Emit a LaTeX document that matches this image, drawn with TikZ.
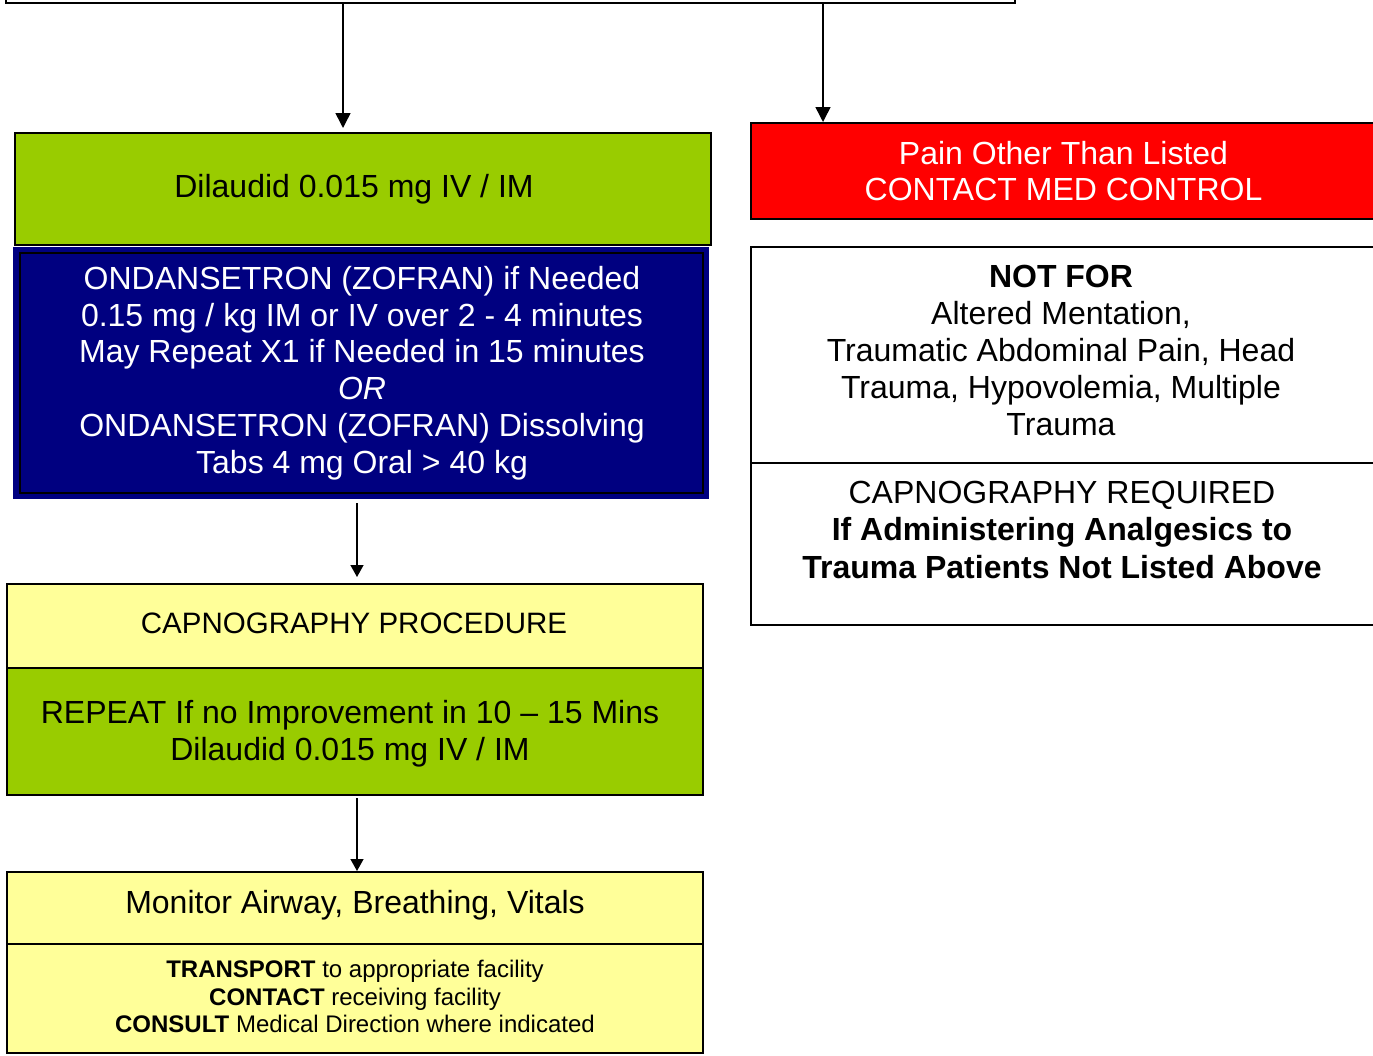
\documentclass[tikz,border=0pt]{standalone}
\usepackage{fontspec}
\setmainfont{Liberation Sans}
\usetikzlibrary{arrows.meta}
\definecolor{lgreen}{HTML}{99CC00}
\definecolor{navyb}{HTML}{000080}
\definecolor{lyellow}{HTML}{FFFF99}
\definecolor{redb}{HTML}{FF0000}
\begin{document}
\begin{tikzpicture}[x=1pt,y=-1pt,
  box/.style={draw=black, line width=2pt, rectangle, inner sep=0pt, align=center},
  txt/.style={inner sep=0pt, align=center},
  big/.style={font=\fontsize{32}{36.8}\selectfont},
  mid/.style={font=\fontsize{29.5}{34}\selectfont},
  small/.style={font=\fontsize{24}{27.5}\selectfont},
  arr/.style={line width=1.5pt, -{Triangle[length=15pt,width=15pt]}},
  arrs/.style={line width=1.3pt, -{Triangle[length=12pt,width=13pt]}}]
\clip (0,0) rectangle (1373,1055);
\fill[white] (0,0) rectangle (1373,1055);
% top box (partly visible)
\node[box, minimum width=1009pt, minimum height=100pt] (top) at (510.5,-47) {};
% left column
\node[box, fill=lgreen, minimum width=696pt, minimum height=112pt] (green1) at (363,189) {};
\node[txt, big] (green1text) at (354,189.5) {Dilaudid 0.015 mg IV / IM};
\node[fill=navyb, inner sep=0pt, minimum width=696pt, minimum height=252pt] (blue) at (361,373) {};
\node[draw=black, line width=2pt, inner sep=0pt, minimum width=683pt, minimum height=240pt] (blueinner) at (361.5,373) {};
\node[txt, big, text=white] (bluetext) at (362,373) {ONDANSETRON (ZOFRAN) if Needed\\0.15 mg / kg IM or IV over 2 - 4 minutes\\May Repeat X1 if Needed in 15 minutes\\\textit{OR}\\ONDANSETRON (ZOFRAN) Dissolving\\Tabs 4 mg Oral > 40 kg};
\node[box, fill=lyellow, minimum width=696pt, minimum height=84pt] (capno) at (355,626) {};
\node[txt, mid] (capnotext) at (354,623) {CAPNOGRAPHY PROCEDURE};
\node[box, fill=lgreen, minimum width=696pt, minimum height=127pt] (green2) at (355,731.5) {};
\node[txt, big] (green2text) at (350,734) {REPEAT If no Improvement in 10 -- 15 Mins\\Dilaudid 0.015 mg IV / IM};
\node[box, fill=lyellow, minimum width=696pt, minimum height=72pt] (monitor) at (355,908) {};
\node[txt, big] (monitortext) at (355,905) {Monitor Airway, Breathing, Vitals};
\node[box, fill=lyellow, minimum width=696pt, minimum height=109pt] (transport) at (355,998.5) {};
\node[txt, small] (transporttext) at (355,996.5) {\textbf{TRANSPORT} to appropriate facility\\\textbf{CONTACT} receiving facility\\\textbf{CONSULT} Medical Direction where indicated};
% right column
\node[box, fill=redb, text=white, minimum width=625pt, minimum height=96pt, big] (red) at (1063.5,171) {Pain Other Than Listed\\CONTACT MED CONTROL};
\node[box, fill=white, minimum width=625pt, minimum height=216pt] (notfor) at (1063.5,355) {};
\node[txt, big] (notfortext) at (1061,350.5) {\textbf{NOT FOR}\\Altered Mentation,\\Traumatic Abdominal Pain, Head\\Trauma, Hypovolemia, Multiple\\Trauma};
\node[box, fill=white, minimum width=625pt, minimum height=162pt] (capreq) at (1063.5,544) {};
\node[txt, font=\fontsize{32}{37.5}\selectfont] (capreqtext) at (1062,529.5) {CAPNOGRAPHY REQUIRED\\\textbf{If Administering Analgesics to}\\\textbf{Trauma Patients Not Listed Above}};
% connectors
\coordinate (a1) at (343,0);
\coordinate (a2) at (823,0);
\coordinate (a3) at (357,0);
\draw[arr, shorten >=4pt] (top.south -| a1) -- (green1.north -| a1);
\draw[arr] (top.south -| a2) -- (red.north -| a2);
\draw[arrs, shorten <=4pt, shorten >=6pt] (blue.south -| a3) -- (capno.north -| a3);
\draw[arrs, shorten <=2pt] (green2.south -| a3) -- (monitor.north -| a3);
\end{tikzpicture}
\end{document}
